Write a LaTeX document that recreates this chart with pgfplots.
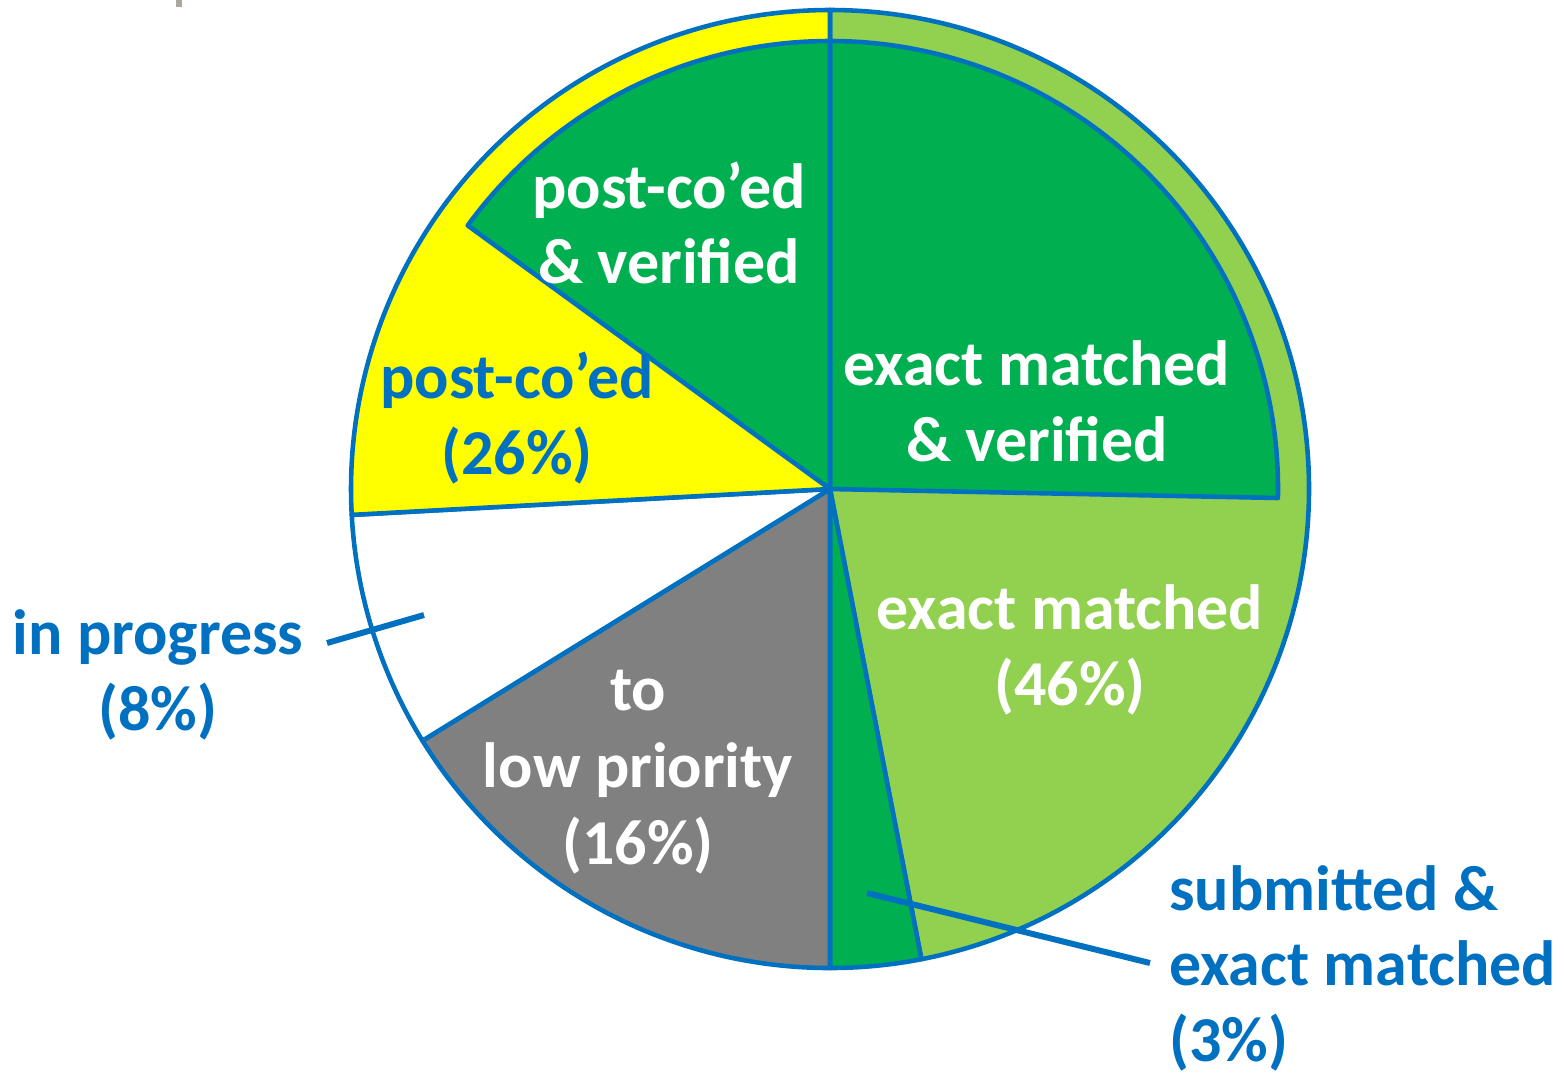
\documentclass[border=0pt]{standalone}
\usepackage{pgfplots}
\pgfplotsset{compat=1.18}
\usepackage{pgfplotstable}
\usepackage{fontspec}
\setmainfont{Carlito}

\definecolor{myblue}{HTML}{0070C0}
\definecolor{dgreen}{HTML}{00B050}
\definecolor{lgreen}{HTML}{92D050}
\definecolor{myyellow}{HTML}{FFFF00}
\definecolor{mygray}{HTML}{808080}

% slices: start/end angle (deg), radius (cm), fill colour
\pgfplotstableread{
start end   r    col
90    -79   4.79 lgreen
-79   -90   4.79 dgreen
-90   -148.3 4.79 mygray
-148.3 -176.9 4.79 white
183.1 90    4.79 myyellow
90    -1.15 4.48 dgreen
143.97 90   4.48 dgreen
}\slices

\begin{document}
\begin{tikzpicture}
\foreach \i in {0,...,6}{
  \pgfplotstablegetelem{\i}{start}\of\slices \expandafter\xdef\csname sS\i\endcsname{\pgfplotsretval}
  \pgfplotstablegetelem{\i}{end}\of\slices \expandafter\xdef\csname sE\i\endcsname{\pgfplotsretval}
  \pgfplotstablegetelem{\i}{r}\of\slices \expandafter\xdef\csname sR\i\endcsname{\pgfplotsretval}
  \pgfplotstablegetelem{\i}{col}\of\slices \expandafter\xdef\csname sC\i\endcsname{\pgfplotsretval}
}
\begin{axis}[
    hide axis,
    scale only axis,
    width=15.65cm, height=10.73cm,
    xmin=0, xmax=1565, ymin=0, ymax=1073,
    y dir=reverse,
    clip=false,
    font=\fontsize{18.2}{21.5}\selectfont\bfseries,
  ]
  \pgfplotsinvokeforeach{0,...,6}{
    \edef\temp{\noexpand\filldraw[fill=\csname sC#1\endcsname, draw=myblue, line width=1.3pt, line join=round]
      (axis cs:830,489) -- ++(\csname sS#1\endcsname:\csname sR#1\endcsname cm)
      arc[start angle=\csname sS#1\endcsname, end angle=\csname sE#1\endcsname, radius=\csname sR#1\endcsname cm] -- cycle;}
    \temp
  }
  % leader lines
  \draw[myblue, line width=1.7pt] (axis cs:327,643) -- (axis cs:424,615);
  \draw[myblue, line width=1.7pt] (axis cs:867,893) -- (axis cs:1150,963);
  \fill[fill={rgb,255:red,171;green,165;blue,157}] (axis cs:176,0) rectangle (axis cs:182,7);

  % labels
  \node[text=white, align=center] at (axis cs:669,223) {post-co’ed\\\& verified};
  \node[text=white, align=center] at (axis cs:1037,401) {exact matched\\\& verified};
  \node[text=myblue, align=center] at (axis cs:517,418) {post-co’ed\\(26\%)};
  \node[text=white, align=center] at (axis cs:1070,650) {exact matched\\(46\%)};
  \node[text=white, align=center, font=\fontsize{18.2}{22}\selectfont\bfseries] at (axis cs:638,772) {to\\low priority\\(16\%)};
  \node[text=myblue, align=center] at (axis cs:158,675) {in progress\\(8\%)};
  \node[text=myblue, align=left, anchor=west] at (axis cs:1157,968) {submitted \&\\exact matched\\(3\%)};
\end{axis}
\pgfresetboundingbox
\path (current axis.south west) rectangle (current axis.north east);
\end{tikzpicture}
\end{document}
